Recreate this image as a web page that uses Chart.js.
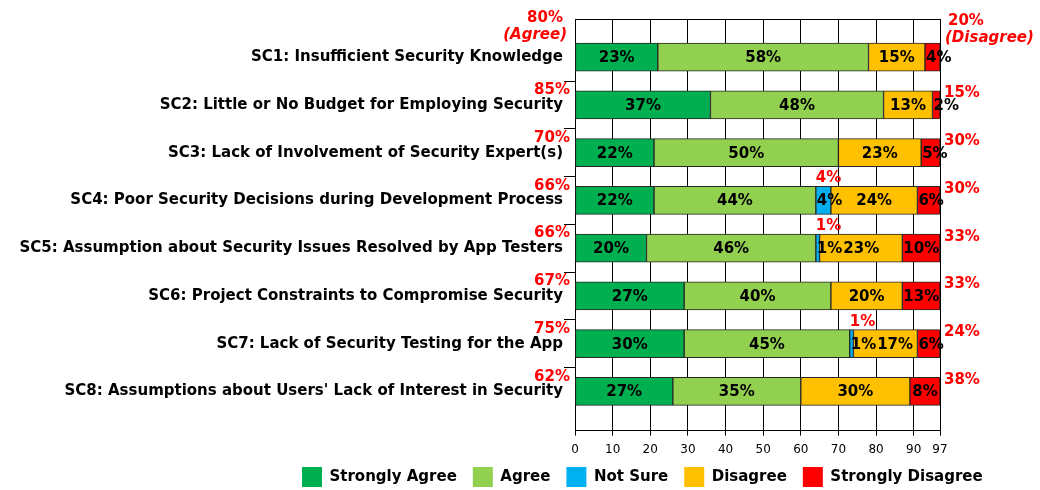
<!DOCTYPE html>
<html><head><meta charset="utf-8">
<script src="https://cdn.jsdelivr.net/npm/chart.js@4"></script>
<style>html,body{margin:0;padding:0;background:#fff;}canvas{display:block;}</style>
</head><body>
<canvas id="c" width="1040" height="490"></canvas>
<script>
// ---------- data ----------
const categories = [
  "SC1: Insufficient Security Knowledge",
  "SC2: Little or No Budget for Employing Security",
  "SC3: Lack of Involvement of Security Expert(s)",
  "SC4: Poor Security Decisions during Development Process",
  "SC5: Assumption about Security Issues Resolved by App Testers",
  "SC6: Project Constraints to Compromise Security",
  "SC7: Lack of Security Testing for the App",
  "SC8: Assumptions about Users' Lack of Interest in Security"
];
const seriesNames = ["Strongly Agree", "Agree", "Not Sure", "Disagree", "Strongly Disagree"];
const stronglyAgree    = [22, 36, 21, 21, 19, 29, 29, 26];
const agree            = [56, 46, 49, 43, 45, 39, 44, 34];
const notSure          = [0, 0, 0, 4, 1, 0, 1, 0];
const disagree         = [15, 13, 22, 23, 22, 19, 17, 29];
const stronglyDisagree = [4, 2, 5, 6, 10, 10, 6, 8];

const pctStronglyAgree    = ["23%", "37%", "22%", "22%", "20%", "27%", "30%", "27%"];
const pctAgree            = ["58%", "48%", "50%", "44%", "46%", "40%", "45%", "35%"];
const pctNotSure          = ["", "", "", "4%", "1%", "", "1%", ""];
const pctDisagree         = ["15%", "13%", "23%", "24%", "23%", "20%", "17%", "30%"];
const pctStronglyDisagree = ["4%", "2%", "5%", "6%", "10%", "13%", "6%", "8%"];

const agreeTotals    = ["80%", "85%", "70%", "66%", "66%", "67%", "75%", "62%"];
const disagreeTotals = ["20%", "15%", "30%", "30%", "33%", "33%", "24%", "38%"];
const notSureCallouts = ["", "", "", "4%", "1%", "", "1%", ""];
const agreeCaption = "(Agree)";
const disagreeCaption = "(Disagree)";

const xTicks = [0, 10, 20, 30, 40, 50, 60, 70, 80, 90, 97];
const xMax = 97;

// ---------- styling ----------
const FAMILY = "'DejaVu Sans', Verdana, sans-serif";
const colors = ["#00B050", "#92D050", "#00B0F0", "#FFC000", "#FF0000"];
const seriesValues = [stronglyAgree, agree, notSure, disagree, stronglyDisagree];
const seriesPct = [pctStronglyAgree, pctAgree, pctNotSure, pctDisagree, pctStronglyDisagree];

const datasets = seriesNames.map((name, d) => ({
  label: name,
  data: seriesValues[d],
  backgroundColor: colors[d],
  borderColor: "#262626",
  borderWidth: 1,
  borderSkipped: false,
  barThickness: 28,
  xAxisID: "x",
  yAxisID: "y"
}));

const labelPlugin = {
  id: "barLabels",
  afterDatasetsDraw(chart) {
    const { ctx, scales } = chart;
    const xs = scales.x, ys = scales.y;
    ctx.save();
    ctx.textBaseline = "middle";
    // in-bar percentages
    ctx.font = "bold 15px " + FAMILY;
    ctx.fillStyle = "#000";
    ctx.textAlign = "left";
    for (let i = 0; i < categories.length; i++) {
      let prevRight = -Infinity;
      for (let d = 0; d < seriesPct.length; d++) {
        const text = seriesPct[d][i];
        if (!text) continue;
        const bar = chart.getDatasetMeta(d).data[i];
        const start = Math.min(bar.base, bar.x);
        const end = Math.max(bar.base, bar.x);
        const w = ctx.measureText(text).width;
        let cx = Math.max((start + end) / 2, start + w / 2 + 1);
        let left = cx - w / 2;
        if (left < prevRight + 1) left = prevRight + 1;
        ctx.fillText(text, left, bar.y + 1);
        prevRight = left + w;
      }
    }
    // red annotations
    ctx.fillStyle = "#FF0000";
    for (let i = 0; i < categories.length; i++) {
      ctx.font = "bold 15px " + FAMILY;
      ctx.textAlign = "right";
      if (i === 0) {
        ctx.fillText(agreeTotals[i], xs.left - 12, ys.getPixelForValue(i - 0.82));
        ctx.font = "italic bold 15px " + FAMILY;
        ctx.fillText(agreeCaption, xs.left - 8, ys.getPixelForValue(i - 0.46));
      } else {
        ctx.fillText(agreeTotals[i], xs.left - 5, ys.getPixelForValue(i - 0.31));
      }
      ctx.font = "bold 15px " + FAMILY;
      ctx.textAlign = "left";
      if (i === 0) {
        ctx.fillText(disagreeTotals[i], xs.right + 8, ys.getPixelForValue(i - 0.75));
        ctx.font = "italic bold 15px " + FAMILY;
        ctx.fillText(disagreeCaption, xs.right + 5, ys.getPixelForValue(i - 0.41));
      } else {
        ctx.fillText(disagreeTotals[i], xs.right + 4, ys.getPixelForValue(i - 0.24));
      }
      if (notSureCallouts[i]) {
        ctx.font = "bold 15px " + FAMILY;
        ctx.textAlign = "left";
        const bar = chart.getDatasetMeta(2).data[i];
        ctx.fillText(notSureCallouts[i], Math.min(bar.base, bar.x), ys.getPixelForValue(i - 0.46));
      }
    }
    ctx.restore();
  }
};

const legendPlace = {
  id: "legendPlace",
  afterLayout(chart) {
    const L = chart.legend;
    if (!L) return;
    const pad = L.options.labels.padding;
    const dx = 302 - pad - L.left;
    const dy = 467 - pad - L.top;
    L.left += dx; L.right += dx;
    L.top += dy; L.bottom = L.top + 60; L.height = 60;
  }
};

new Chart(document.getElementById("c"), {
  type: "bar",
  data: { labels: categories.map((_, i) => i), datasets },
  options: {
    indexAxis: "y",
    responsive: false,
    animation: false,
    layout: { padding: { left: 0, right: 100, top: 19, bottom: 0 } },
    scales: {
      x: {
        type: "linear", position: "bottom", min: 0, max: xMax, stacked: true, offset: false,
        afterBuildTicks: s => { s.ticks = xTicks.map(v => ({ value: v })); },
        grid: { color: "#000", lineWidth: 1, tickLength: 5, drawTicks: true },
        border: { color: "#000", width: 1 },
        ticks: { autoSkip: false, maxRotation: 0, padding: 7, color: "#000", font: { family: FAMILY, size: 12 } }
      },
      x2: {
        type: "linear", position: "top", min: 0, max: xMax, offset: false,
        grid: { display: false, drawTicks: false },
        ticks: { display: false },
        border: { display: true, color: "#000", width: 1 }
      },
      y: {
        type: "linear", min: -0.8, max: 7.82, reverse: true, stacked: true, offset: false,
        afterBuildTicks: s => { s.ticks = categories.map((_, i) => ({ value: i })); },
        afterFit: s => { s.width = 575; },
        ticks: {
          autoSkip: false, padding: 1, color: "#000",
          font: { family: FAMILY, size: 15, weight: "bold" },
          callback: v => categories[v]
        },
        grid: {
          offset: true, drawOnChartArea: false, drawTicks: true, tickLength: 11,
          color: c => (c.index > 0 && c.index < categories.length) ? "#000" : "rgba(0,0,0,0)",
          tickColor: c => (c.index > 0 && c.index < categories.length) ? "#000" : "rgba(0,0,0,0)"
        },
        border: { color: "#000", width: 1 }
      }
    },
    plugins: {
      tooltip: { enabled: false },
      legend: {
        position: "bottom", align: "start", maxHeight: 26,
        labels: {
          boxWidth: 20, boxHeight: 20, padding: 16, color: "#000",
          font: { family: FAMILY, size: 15, weight: "bold" },
          generateLabels: chart => Chart.defaults.plugins.legend.labels.generateLabels(chart)
            .map(l => Object.assign(l, { lineWidth: 0, strokeStyle: l.fillStyle }))
        }
      }
    }
  },
  plugins: [labelPlugin, legendPlace]
});
</script>
</body></html>
